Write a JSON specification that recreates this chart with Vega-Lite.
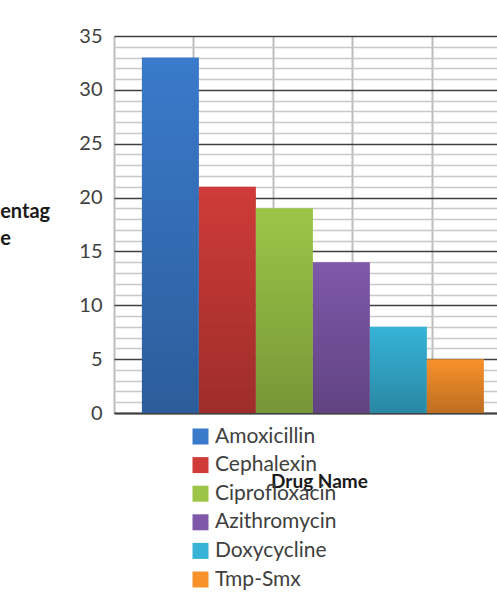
{
  "$schema": "https://vega.github.io/schema/vega-lite/v6.json",
  "width": 383,
  "height": 377,
  "autosize": {"type": "none"},
  "padding": {"left": 114, "top": 36, "right": 0, "bottom": 193},
  "background": "white",
  "config": {"view": {"stroke": null}, "font": "Lato"},
  "data": {
    "values": [
      {"drug": "Amoxicillin", "pct": 33},
      {"drug": "Cephalexin", "pct": 21},
      {"drug": "Ciprofloxacin", "pct": 19},
      {"drug": "Azithromycin", "pct": 14},
      {"drug": "Doxycycline", "pct": 8},
      {"drug": "Tmp-Smx", "pct": 5}
    ]
  },
  "layer": [
    {
      "mark": {"type": "point", "opacity": 0},
      "encoding": {
        "x": {
          "datum": 0,
          "type": "quantitative",
          "scale": {"domain": [0, 4.824], "nice": false, "zero": false},
          "axis": {
            "orient": "top",
            "values": [0, 1, 2, 3, 4],
            "grid": true,
            "gridColor": "#bdbdbd",
            "gridWidth": 2,
            "labels": false,
            "ticks": false,
            "domain": false,
            "title": null
          }
        }
      }
    },
    {
      "layer": [
        {
          "mark": {"type": "bar"},
          "encoding": {
            "x": {
              "field": "drug",
              "type": "nominal",
              "sort": null,
              "scale": {"paddingInner": 0, "paddingOuter": 0.36, "align": 0.68},
              "axis": {
                "labels": false,
                "ticks": false,
                "domain": true,
                "domainColor": "#404040",
                "domainWidth": 2,
                "title": "Drug Name",
                "titleFont": "Lato",
                "titleFontSize": 19,
                "titleFontWeight": "bold",
                "titleColor": "#1a1a1a",
                "titleX": 205,
                "titleY": 74,
                "titleAlign": "center",
                "titleBaseline": "alphabetic"
              }
            },
            "y": {
              "field": "pct",
              "type": "quantitative",
              "scale": {"domain": [0, 35], "nice": false},
              "axis": {
                "values": [0,1,2,3,4,5,6,7,8,9,10,11,12,13,14,15,16,17,18,19,20,21,22,23,24,25,26,27,28,29,30,31,32,33,34,35],
                "labelExpr": "datum.value % 5 === 0 ? datum.label : ''",
                "labelOverlap": false,
                "grid": true,
                "gridColor": {"condition": {"test": "datum.value % 5 === 0", "value": "#404040"}, "value": "#c8c8c8"},
                "gridWidth": 1.6,
                "ticks": false,
                "domain": false,
                "labelFont": "Lato",
                "labelFontSize": 20,
                "labelColor": "#404040",
                "labelPadding": 12,
                "title": ["Percentag", "e"],
                "titleAngle": 0,
                "titleFont": "Lato",
                "titleFontSize": 20,
                "titleFontWeight": "bold",
                "titleColor": "#1a1a1a",
                "titleAlign": "center",
                "titleBaseline": "alphabetic",
                "titleX": -109,
                "titleY": 181,
                "titleLineHeight": 27
              }
            },
            "color": {
              "field": "drug",
              "type": "nominal",
              "sort": null,
              "scale": {
                "domain": ["Amoxicillin", "Cephalexin", "Ciprofloxacin", "Azithromycin", "Doxycycline", "Tmp-Smx"],
                "range": ["#3a7acb", "#cf3b38", "#9cc548", "#7f58aa", "#36b3d7", "#f9912b"]
              },
              "legend": {
                "orient": "none",
                "legendX": 76,
                "legendY": 390,
                "title": null,
                "symbolType": "square",
                "symbolSize": 256,
                "symbolStrokeWidth": 0,
                "symbolOpacity": 1,
                "labelFont": "Lato",
                "labelFontSize": 21,
                "labelColor": "#404040",
                "labelOffset": 4,
                "rowPadding": 6.6
              }
            }
          }
        },
        {
          "mark": {
            "type": "bar",
            "fill": {
              "gradient": "linear", "x1": 0, "y1": 0, "x2": 0, "y2": 1,
              "stops": [
                {"offset": 0, "color": "rgba(0,0,0,0)"},
                {"offset": 1, "color": "rgba(0,0,0,0.24)"}
              ]
            }
          },
          "encoding": {
            "x": {
              "field": "drug",
              "type": "nominal",
              "sort": null,
              "scale": {"paddingInner": 0, "paddingOuter": 0.36, "align": 0.68},
              "axis": {
                "labels": false,
                "ticks": false,
                "domain": true,
                "domainColor": "#404040",
                "domainWidth": 2,
                "title": "Drug Name",
                "titleFont": "Lato",
                "titleFontSize": 19,
                "titleFontWeight": "bold",
                "titleColor": "#1a1a1a",
                "titleX": 205,
                "titleY": 74,
                "titleAlign": "center",
                "titleBaseline": "alphabetic"
              }
            },
            "y": {
              "field": "pct",
              "type": "quantitative",
              "scale": {"domain": [0, 35], "nice": false},
              "axis": {
                "values": [0,1,2,3,4,5,6,7,8,9,10,11,12,13,14,15,16,17,18,19,20,21,22,23,24,25,26,27,28,29,30,31,32,33,34,35],
                "labelExpr": "datum.value % 5 === 0 ? datum.label : ''",
                "labelOverlap": false,
                "grid": true,
                "gridColor": {"condition": {"test": "datum.value % 5 === 0", "value": "#404040"}, "value": "#c8c8c8"},
                "gridWidth": 1.6,
                "ticks": false,
                "domain": false,
                "labelFont": "Lato",
                "labelFontSize": 20,
                "labelColor": "#404040",
                "labelPadding": 12,
                "title": ["Percentag", "e"],
                "titleAngle": 0,
                "titleFont": "Lato",
                "titleFontSize": 20,
                "titleFontWeight": "bold",
                "titleColor": "#1a1a1a",
                "titleAlign": "center",
                "titleBaseline": "alphabetic",
                "titleX": -109,
                "titleY": 181,
                "titleLineHeight": 27
              }
            }
          }
        }
      ]
    }
  ],
  "resolve": {"scale": {"x": "independent"}, "axis": {"x": "independent"}}
}
